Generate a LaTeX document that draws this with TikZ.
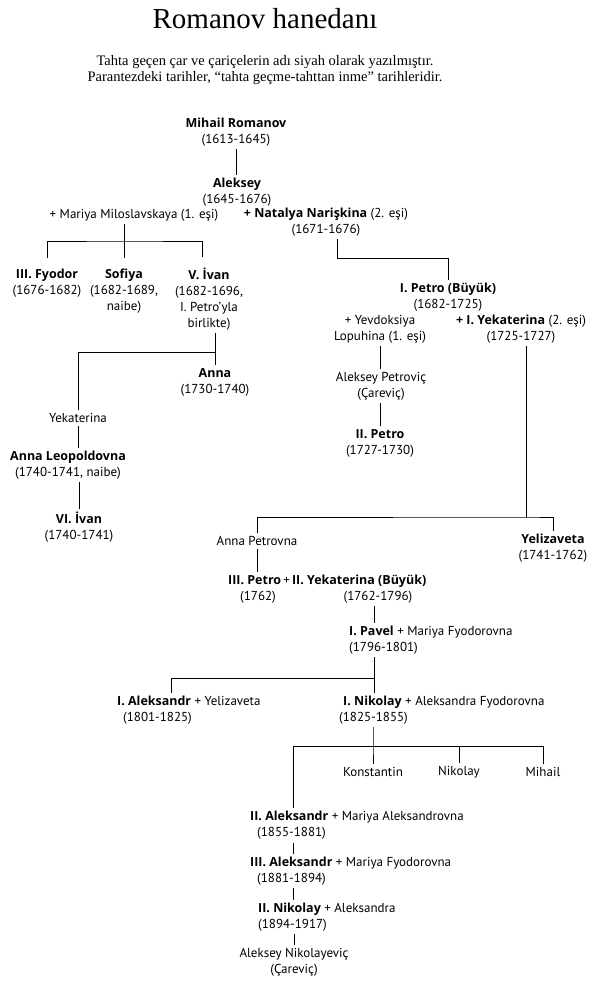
\documentclass[tikz,border=0pt]{standalone}
\usepackage{fontspec}
\setmainfont{PT Sans}[BoldFont={Open Sans Bold},BoldFeatures={Scale=0.96}]
\newfontfamily\titlefont{Liberation Serif}
\usetikzlibrary{positioning}
\tikzset{
  person/.style={align=center,inner sep=3pt,font=\fontsize{13}{16}\selectfont},
  couple/.style={align=left,anchor=west,inner sep=3pt,font=\fontsize{13}{16}\selectfont},
  headline/.style={anchor=base,inner sep=0pt,font=\titlefont\fontsize{29}{34}\selectfont},
  subline/.style={align=center,inner sep=0pt,font=\titlefont\fontsize{14.5}{16}\selectfont},
  link/.style={line width=1pt}
}

\begin{document}
\begin{tikzpicture}[x=1pt,y=-1pt]
  \useasboundingbox (0,0) rectangle (593,985);
  \node[headline] (title) at (265,28) {Romanov hanedanı};
  \node[subline] (sub) at (265,70) {Tahta geçen çar ve çariçelerin adı siyah olarak yazılmıştır.\\Parantezdeki tarihler, “tahta geçme-tahttan inme” tarihleridir.};

  % first generations
  \node[person] (mihail) at (236,132) {\textbf{Mihail Romanov}\\(1613-1645)};
  \node[person] (aleksey) at (237,192) {\textbf{Aleksey}\\(1645-1676)};
  \node[person] (mariya) at (134,215) {+ Mariya Miloslavskaya (1. eşi)};
  \node[person] (natalya) at (326,222) {\textbf{+ Natalya Narişkina} (2. eşi)\\(1671-1676)};
  \node[person] (fyodor) at (47,283) {\textbf{III. Fyodor}\\(1676-1682)};
  \node[person] (sofiya) at (124,291) {\textbf{Sofiya}\\(1682-1689,\\naibe)};
  \node[person] (ivan5) at (209,299) {\textbf{V. İvan}\\(1682-1696,\\I. Petro’yla\\birlikte)};
  \node[person] (anna) at (215,382) {\textbf{Anna}\\(1730-1740)};
  \node[person] (yekaterinaL) at (78,418) {Yekaterina};
  \node[person] (leopoldovna) at (68,465) {\textbf{Anna Leopoldovna}\\(1740-1741, naibe)};
  \node[person] (ivan6) at (79,527) {\textbf{VI. İvan}\\(1740-1741)};

  % Petro line
  \node[person] (petro1) at (448,297) {\textbf{I. Petro (Büyük)}\\(1682-1725)};
  \node[person] (yevdoksiya) at (380,329) {+ Yevdoksiya\\Lopuhina (1. eşi)};
  \node[person] (yekaterina1) at (521,329) {\textbf{+ I. Yekaterina} (2. eşi)\\(1725-1727)};
  \node[person] (alekseyP) at (381,386) {Aleksey Petroviç\\(Çareviç)};
  \node[person] (petro2) at (380,443) {\textbf{II. Petro}\\(1727-1730)};
  \node[person] (annaP) at (257,541) {Anna Petrovna};
  \node[person] (yelizaveta) at (553,548) {\textbf{Yelizaveta}\\(1741-1762)};
  \node[person,anchor=west] (petro3) at (225,581) {\textbf{III. Petro}\,+\,\textbf{II. Yekaterina (Büyük)}};
  \node[person] (petro3d) at (258,597) {(1762)};
  \node[person] (yekaterina2d) at (378,597) {(1762-1796)};

  % later tsars
  \node[couple] (pavel) at (346,640) {\textbf{I. Pavel} + Mariya Fyodorovna\\(1796-1801)};
  \node[couple] (aleksandr1) at (114,710) {\textbf{I. Aleksandr} + Yelizaveta\\\hspace*{6pt}(1801-1825)};
  \node[couple] (nikolay1) at (336,710) {\hspace*{4pt}\textbf{I. Nikolay} + Aleksandra Fyodorovna\\(1825-1855)};
  \node[person] (konstantin) at (373,772) {Konstantin};
  \node[person] (nikolayK) at (459,772) {Nikolay};
  \node[person] (mihailK) at (543,772) {Mihail};
  \node[couple] (aleksandr2) at (247,825.5) {\textbf{II. Aleksandr} + Mariya Aleksandrovna\\\hspace*{7pt}(1855-1881)};
  \node[couple] (aleksandr3) at (247,871) {\textbf{III. Aleksandr} + Mariya Fyodorovna\\\hspace*{7pt}(1881-1894)};
  \node[couple] (nikolay2) at (255,917) {\textbf{II. Nikolay} + Aleksandra\\(1894-1917)};
  \node[person] (alekseyN) at (294,962.5) {Aleksey Nikolayeviç\\(Çareviç)};

  % connectors
  \coordinate (mbar) at (124,241);
  \coordinate (nbar) at (337,258);
  \coordinate (ibar) at (215,352);
  \coordinate (ybar) at (526,517);
  \coordinate (pbar) at (374,678);
  \coordinate (pleft) at (171,678);
  \coordinate (kbar) at (373,746);
  \coordinate (kleft) at (293,746);

  \draw[link] (mihail.south) -- (mihail.south |- aleksey.north);
  \draw[link] (mariya.south -| mbar) -- (mbar);
  \draw[link] ([yshift=8pt]fyodor.north) |- (mbar) -| ([xshift=-7pt,yshift=8pt]ivan5.north);
  \draw[link] (mbar) -- ([yshift=8pt]sofiya.north);
  \draw[link] (nbar |- natalya.south) -- (nbar) -| (petro1.north);
  \draw[link] (anna.north |- ivan5.south) -- (anna.north);
  \draw[link] (ibar) -| (yekaterinaL.north);
  \draw[link] (yekaterinaL.south) -- (yekaterinaL.south |- leopoldovna.north);
  \draw[link] (ivan6.north |- leopoldovna.south) -- (ivan6.north);
  \draw[link] (yevdoksiya.south) -- (yevdoksiya.south |- alekseyP.north);
  \draw[link] (petro2.north |- alekseyP.south) -- (petro2.north);
  \draw[link] (ybar |- yekaterina1.south) -- (ybar);
  \draw[link] (annaP.north) |- (ybar) -| (yelizaveta.north);
  \draw[link] (annaP.south) -- (annaP.south |- petro3.north);
  \draw[link] (pbar |- yekaterina2d.south) -- (pbar |- pavel.north);
  \draw[link] (pbar |- pavel.south) -- (pbar |- nikolay1.north);
  \draw[link] (pbar) -- (pleft) -- (pleft |- aleksandr1.north);
  \draw[link] (kbar |- nikolay1.south) -- (kbar) -- (konstantin.north);
  \draw[link] (kleft |- aleksandr2.north) |- (mihailK.north |- kbar) -- (mihailK.north);
  \draw[link] (nikolayK.north |- kbar) -- (nikolayK.north);
  \draw[link] (kleft |- aleksandr2.south) -- (kleft |- aleksandr3.north);
  \draw[link] (kleft |- aleksandr3.south) -- (kleft |- nikolay2.north);
  \draw[link] (alekseyN.north |- nikolay2.south) -- (alekseyN.north);
\end{tikzpicture}
\end{document}
